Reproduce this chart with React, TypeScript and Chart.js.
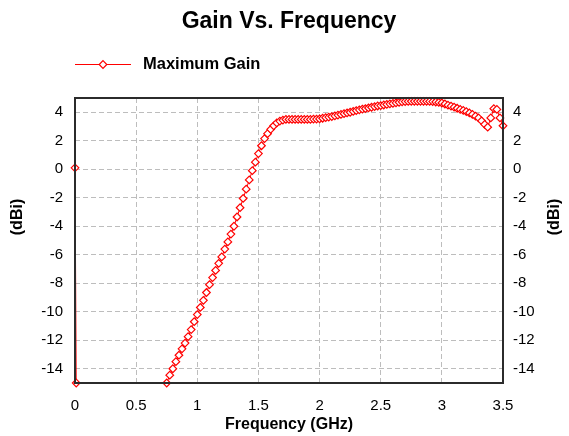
import React, { useEffect, useRef } from "react";
import { Chart, registerables } from "chart.js";

Chart.register(...registerables);

const chartTitle = "Gain Vs. Frequency";
const seriesName = "Maximum Gain";
const xTitle = "Frequency (GHz)";
const yTitle = "(dBi)";

const xTickValues = [0, 0.5, 1, 1.5, 2, 2.5, 3, 3.5];
const yTickValues = [4, 2, 0, -2, -4, -6, -8, -10, -12, -14];

const freqGHz = [
  0, 0.01,
  0.75, 0.775, 0.8, 0.825, 0.85, 0.875, 0.9, 0.925, 0.95, 0.975,
  1.0, 1.025, 1.05, 1.075, 1.1, 1.125, 1.15, 1.175, 1.2, 1.225,
  1.25, 1.275, 1.3, 1.325, 1.35, 1.375, 1.4, 1.425, 1.45, 1.475,
  1.5, 1.525, 1.55, 1.575, 1.6, 1.625, 1.65, 1.675, 1.7, 1.725,
  1.75, 1.775, 1.8, 1.825, 1.85, 1.875, 1.9, 1.925, 1.95, 1.975,
  2.0, 2.025, 2.05, 2.075, 2.1, 2.125, 2.15, 2.175, 2.2, 2.225,
  2.25, 2.275, 2.3, 2.325, 2.35, 2.375, 2.4, 2.425, 2.45, 2.475,
  2.5, 2.525, 2.55, 2.575, 2.6, 2.625, 2.65, 2.675, 2.7, 2.725,
  2.75, 2.775, 2.8, 2.825, 2.85, 2.875, 2.9, 2.925, 2.95, 2.975,
  3.0, 3.025, 3.05, 3.075, 3.1, 3.125, 3.15, 3.175, 3.2, 3.225,
  3.25, 3.275, 3.3, 3.325, 3.35, 3.375, 3.4, 3.425, 3.45, 3.475,
  3.5,
];

const gainDbi = [
  0.1, -15,
  -15.0, -14.45, -14.0, -13.5, -13.05, -12.6, -12.2, -11.75, -11.25, -10.7,
  -10.2, -9.7, -9.2, -8.65, -8.1, -7.6, -7.1, -6.6, -6.15, -5.6,
  -5.1, -4.55, -4.0, -3.35, -2.7, -2.05, -1.4, -0.75, -0.1, 0.5,
  1.1, 1.65, 2.15, 2.5, 2.8, 3.05, 3.25, 3.38, 3.45, 3.5,
  3.5, 3.5, 3.5, 3.5, 3.5, 3.5, 3.5, 3.5, 3.52, 3.52,
  3.53, 3.58, 3.62, 3.66, 3.7, 3.75, 3.8, 3.85, 3.9, 3.95,
  4.0, 4.06, 4.12, 4.17, 4.22, 4.26, 4.3, 4.35, 4.4, 4.44,
  4.47, 4.51, 4.55, 4.59, 4.62, 4.66, 4.7, 4.73, 4.75, 4.76,
  4.77, 4.77, 4.77, 4.77, 4.77, 4.77, 4.76, 4.75, 4.72, 4.69,
  4.65, 4.58, 4.5, 4.43, 4.36, 4.28, 4.2, 4.13, 4.05, 3.95,
  3.85, 3.73, 3.6, 3.4, 3.15, 2.95, 3.6, 4.25, 4.2, 3.6,
  3.05,
];

const FONT = "'Liberation Sans', Arial, Helvetica, sans-serif";
const RED = "#ff0000";

const decorPlugin = {
  id: "decor",
  afterDraw(chart: any) {
    const ctx = chart.ctx as CanvasRenderingContext2D;
    const a = chart.chartArea;
    ctx.save();
    // frame
    ctx.strokeStyle = "#2b2b2b";
    ctx.lineWidth = 2;
    ctx.setLineDash([]);
    ctx.strokeRect(a.left, a.top, a.right - a.left, a.bottom - a.top);

    ctx.fillStyle = "#000000";
    // title
    ctx.font = `bold 23px ${FONT}`;
    ctx.textAlign = "center";
    ctx.textBaseline = "middle";
    ctx.fillText(chartTitle, (a.left + a.right) / 2, 22);

    // legend
    const ly = 64.5;
    ctx.strokeStyle = RED;
    ctx.lineWidth = 1;
    ctx.beginPath();
    ctx.moveTo(75, ly);
    ctx.lineTo(131, ly);
    ctx.stroke();
    ctx.beginPath();
    const mx = 103, r = 3.8;
    ctx.moveTo(mx, ly - r);
    ctx.lineTo(mx + r, ly);
    ctx.lineTo(mx, ly + r);
    ctx.lineTo(mx - r, ly);
    ctx.closePath();
    ctx.fillStyle = "#ffffff";
    ctx.fill();
    ctx.lineWidth = 1.2;
    ctx.stroke();
    ctx.fillStyle = "#000000";
    ctx.font = `bold 16.5px ${FONT}`;
    ctx.textAlign = "left";
    ctx.fillText(seriesName, 143, ly);

    // x title
    ctx.font = `bold 16px ${FONT}`;
    ctx.textAlign = "center";
    ctx.fillText(xTitle, (a.left + a.right) / 2, 425);

    // y titles (both reading upward)
    const drawRot = (x: number, y: number) => {
      ctx.save();
      ctx.translate(x, y);
      ctx.rotate(-Math.PI / 2);
      ctx.textAlign = "center";
      ctx.textBaseline = "middle";
      ctx.fillText(yTitle, 0, 0);
      ctx.restore();
    };
    drawRot(17.5, 217);
    drawRot(555, 217);
    ctx.restore();
  },
};

export default function App() {
  const ref = useRef<HTMLCanvasElement | null>(null);

  useEffect(() => {
    document.body.style.margin = "0";
    const canvas = ref.current;
    if (!canvas) return;
    Chart.defaults.font.family = FONT;

    const points = freqGHz.map((f, i) => ({ x: f, y: gainDbi[i] }));

    const setX = (scale: any) => {
      scale.ticks = xTickValues.map((v) => ({ value: v }));
    };
    const setY = (scale: any) => {
      scale.ticks = yTickValues.map((v) => ({ value: v }));
    };

    const chart = new Chart(canvas, {
      type: "line",
      data: {
        datasets: [
          {
            label: seriesName,
            data: points,
            borderColor: RED,
            borderWidth: 1,
            pointStyle: "rectRot",
            pointRadius: 3.8,
            pointBorderWidth: 1.2,
            pointBorderColor: RED,
            pointBackgroundColor: "#ffffff",
            tension: 0,
            clip: 5,
            yAxisID: "y",
          } as any,
        ],
      },
      options: {
        responsive: false,
        animation: false,
        devicePixelRatio: 1,
        layout: { padding: { top: 98, left: 0, right: 0, bottom: 0 } },
        plugins: {
          legend: { display: false },
          title: { display: false },
          tooltip: { enabled: false },
        },
        scales: {
          x: {
            type: "linear",
            position: "bottom",
            min: 0,
            max: 3.5,
            afterBuildTicks: setX,
            afterFit: (s: any) => {
              s.height = 53;
            },
            grid: { color: "#bdbdbd", lineWidth: 1, drawTicks: false },
            border: { display: false, dash: [5, 3] },
            ticks: {
              color: "#000000",
              font: { size: 15 },
              padding: 14,
              maxRotation: 0,
              autoSkip: false,
              callback: (v: any) => String(v),
            },
          },
          y: {
            type: "linear",
            position: "left",
            min: -15,
            max: 5,
            afterBuildTicks: setY,
            afterFit: (s: any) => {
              s.width = 75;
            },
            grid: { color: "#bdbdbd", lineWidth: 1, drawTicks: false },
            border: { display: false, dash: [5, 3] },
            ticks: {
              color: "#000000",
              font: { size: 15 },
              padding: 12,
              autoSkip: false,
              callback: (v: any) => String(v),
            },
          },
          y2: {
            type: "linear",
            position: "right",
            min: -15,
            max: 5,
            afterBuildTicks: setY,
            afterFit: (s: any) => {
              s.width = 66;
            },
            grid: { display: false, drawTicks: false },
            border: { display: false },
            ticks: {
              color: "#000000",
              font: { size: 15 },
              padding: 10,
              autoSkip: false,
              callback: (v: any) => String(v),
            },
          },
        },
      } as any,
      plugins: [decorPlugin],
    });

    return () => {
      chart.destroy();
    };
  }, []);

  return (
    <div style={{ width: 569, height: 436 }}>
      <canvas ref={ref} width={569} height={436} style={{ display: "block" }} />
    </div>
  );
}
